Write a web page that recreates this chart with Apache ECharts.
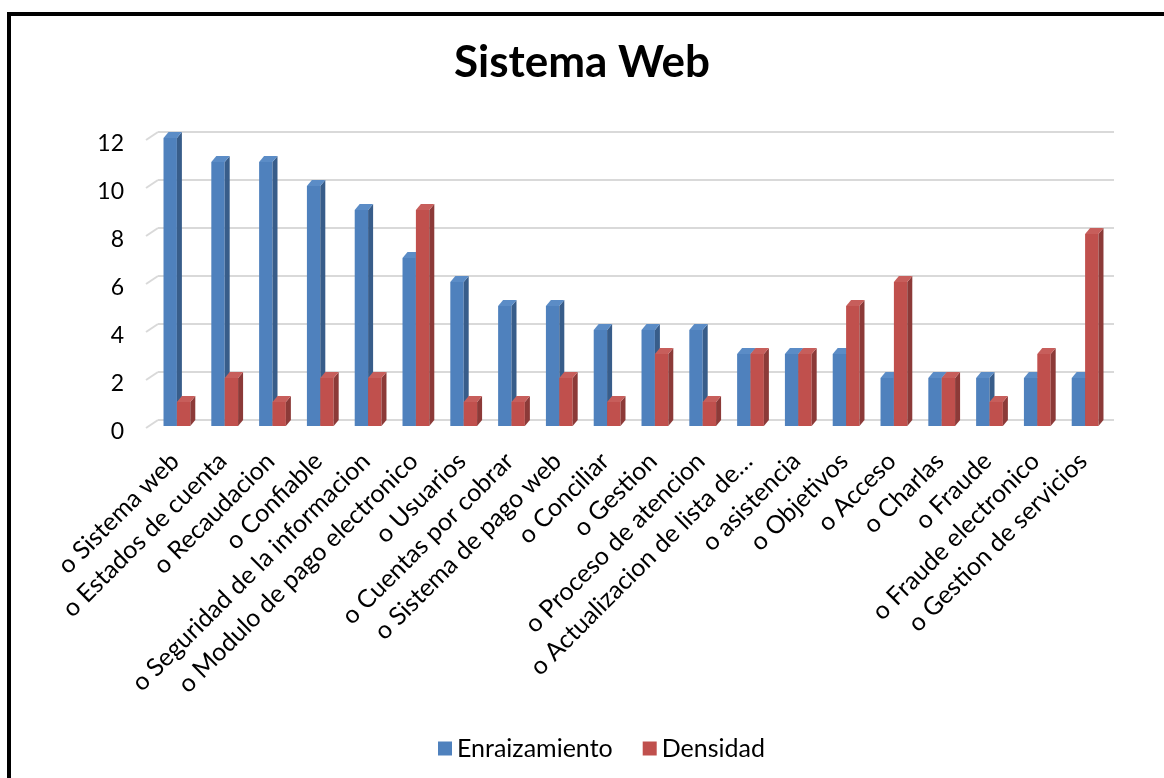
<!DOCTYPE html>
<html>
<head>
<meta charset="utf-8">
<script src="https://cdn.jsdelivr.net/npm/echarts@6/dist/echarts.min.js"></script>
<style>html,body{margin:0;padding:0;background:#fff;}#c{width:1164px;height:778px;}</style>
</head>
<body>
<div id="c"></div>
<script>
var categories = ["o Sistema web","o Estados de cuenta","o Recaudacion","o Confiable","o Seguridad de la informacion","o Modulo de pago electronico","o Usuarios","o Cuentas por cobrar","o Sistema de pago web","o Conciliar","o Gestion","o Proceso de atencion","o Actualizacion de lista de…","o asistencia","o Objetivos","o Acceso","o Charlas","o Fraude","o Fraude electronico","o Gestion de servicios"];
var enraizamiento = [12,11,11,10,9,7,6,5,5,4,4,4,3,3,3,2,2,2,2,2];
var densidad = [1,2,1,2,2,9,1,1,2,1,3,1,3,3,5,6,2,1,3,8];
var yTicks = [0,2,4,6,8,10,12];

var FONT = 'Lato, "Open Sans", sans-serif';
var DX = 5, DY = 6;

function toData(arr){ return arr.map(function(v,i){ return [i, v]; }); }

function bar3D(leftSide, cFront, cSide, cTop){
  return function(params, api){
    var cat = api.value(0), v = api.value(1);
    var base = api.coord([cat, 0]);
    var top = api.coord([cat, v]);
    var bw = api.size([1, 0])[0] * 0.28;
    var x0 = (leftSide ? base[0] - bw : base[0]) - DX;
    var yT = top[1] + DY, yB = base[1] + DY;
    return {
      type: 'group',
      children: [
        {type:'rect', shape:{x:x0, y:yT, width:bw, height:yB-yT}, style:{fill:cFront}},
        {type:'polygon', shape:{points:[[x0+bw,yT],[x0+bw+DX,yT-DY],[x0+bw+DX,yB-DY],[x0+bw,yB]]}, style:{fill:cSide}},
        {type:'polygon', shape:{points:[[x0,yT],[x0+DX,yT-DY],[x0+bw+DX,yT-DY],[x0+bw,yT]]}, style:{fill:cTop}}
      ]
    };
  };
}

function stubRender(params, api){
  var v = api.value(0);
  var p = api.coord([0, v]);
  var left = p[0] - api.size([1,0])[0]/2;
  return {type:'line', shape:{x1:left-12, y1:p[1]+8, x2:left, y2:p[1]}, style:{stroke:'#D9D9D9', lineWidth:2}};
}

var chart = echarts.init(document.getElementById('c'));
chart.setOption({
  backgroundColor: '#ffffff',
  animation: false,
  title: {
    text: 'Sistema Web', left: 'center', top: 36,
    textStyle: {fontFamily: FONT, fontSize: 44, fontWeight: 'bold', color: '#000'}
  },
  legend: {
    data: ['Enraizamiento','Densidad'],
    left: 433, top: 731,
    icon: 'rect', itemWidth: 14, itemHeight: 14, itemGap: 30,
    textStyle: {fontFamily: FONT, fontSize: 25, color: '#000'}
  },
  grid: {left: 158, right: 50, top: 132, bottom: 358, containLabel: false},
  xAxis: {
    type: 'category', data: categories,
    axisLine: {show: false}, axisTick: {show: false},
    axisLabel: {interval: 0, rotate: 45, margin: 30, padding: [0, 10, 0, 0], fontFamily: FONT, fontSize: 25, color: '#000'}
  },
  yAxis: {
    type: 'value', min: 0, max: 12, interval: 2,
    axisLine: {show: false}, axisTick: {show: false},
    splitLine: {lineStyle: {color: '#D9D9D9', width: 2}},
    axisLabel: {margin: 34, verticalAlign: 'top', fontFamily: FONT, fontSize: 23, color: '#000'}
  },
  graphic: [{type:'rect', shape:{x:9, y:14, width:1200, height:800}, style:{fill:'none', stroke:'#000', lineWidth:4}, z:100}],
  series: [
    {name:'Enraizamiento', type:'custom', data: toData(enraizamiento), encode:{x:0,y:1},
     itemStyle:{color:'#4F81BD'}, renderItem: bar3D(true, '#4F81BD', '#385D8A', '#5B8CC6'), z:3},
    {name:'Densidad', type:'custom', data: toData(densidad), encode:{x:0,y:1},
     itemStyle:{color:'#C0504D'}, renderItem: bar3D(false, '#C0504D', '#8C3A38', '#C75E5B'), z:4},
    {name:'stubs', type:'custom', data: yTicks.map(function(t){return [t];}), encode:{y:0},
     renderItem: stubRender, silent: true, z:1}
  ]
});
</script>
</body>
</html>
